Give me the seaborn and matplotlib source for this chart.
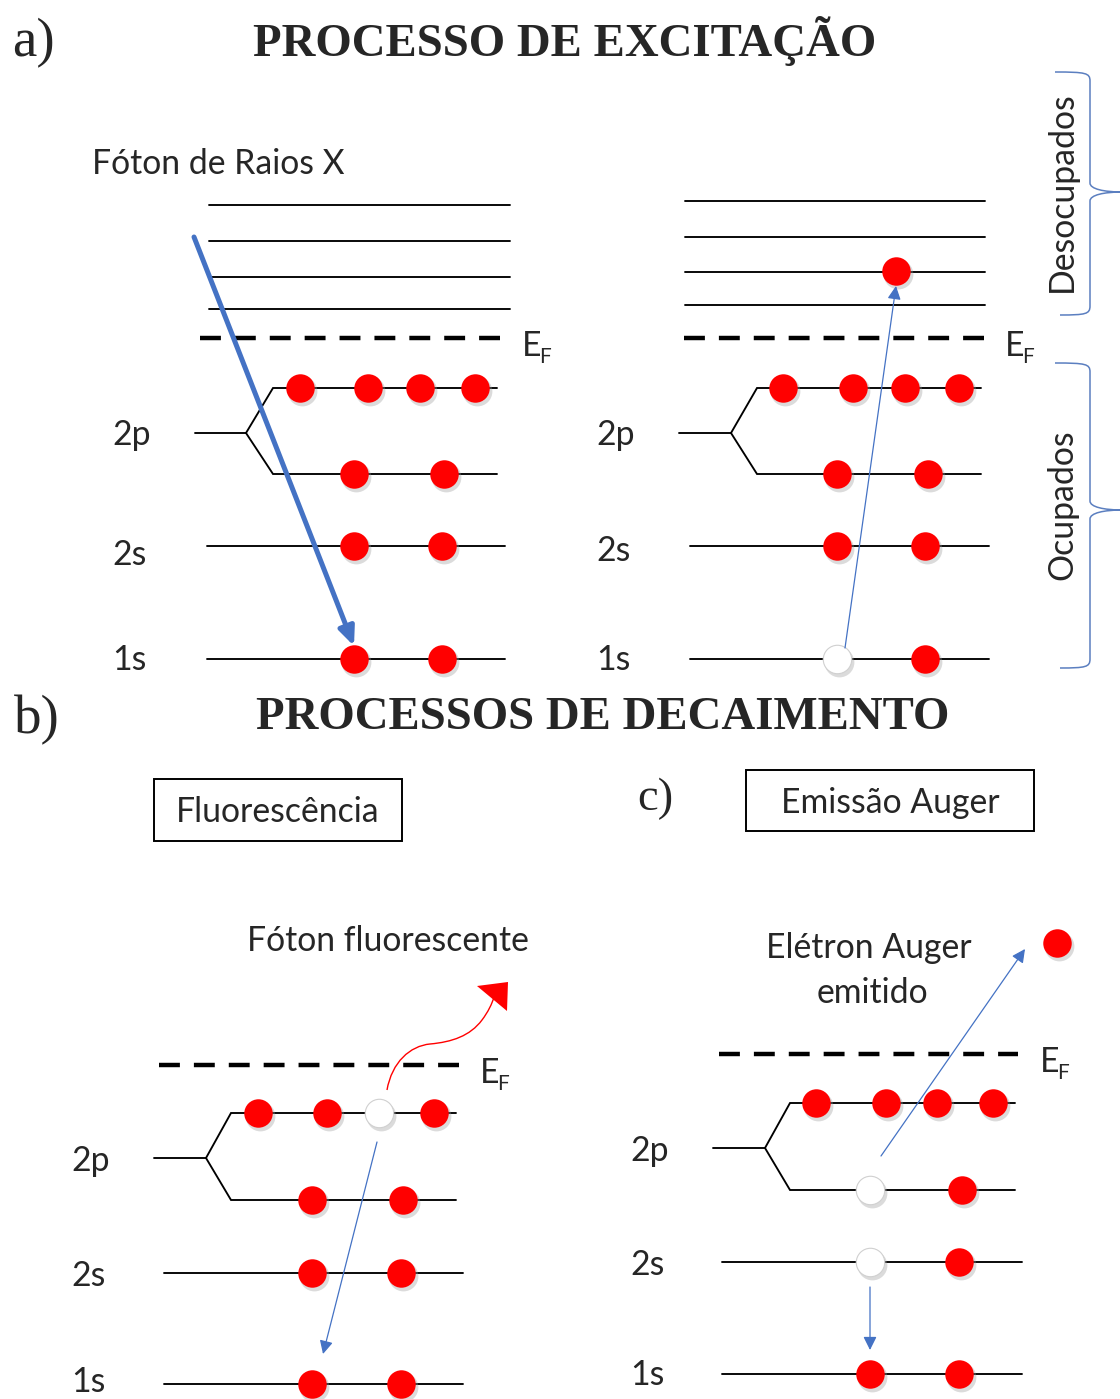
import numpy as np
import pandas as pd
import matplotlib
matplotlib.use("Agg")
import matplotlib.pyplot as plt
import seaborn as sns
from matplotlib.path import Path
from matplotlib.patches import PathPatch, Polygon, Rectangle

sns.set_theme(style="white")
plt.rcParams['font.family'] = ['Lato', 'DejaVu Sans']

W, H = 1120, 1399
RED = "#FF0000"
BLUE = "#4472C4"
BRACE = "#5B7FC0"

# ---------------- level geometry of the four diagrams (figure pixels) -------------
stem_x0     = [195, 679, 154, 713]
stem_x1     = [246, 731, 206, 765]
branch_x    = [273, 757, 231, 790]
p_x1        = [497, 981, 456, 1015]
y_2p_up     = [388, 388, 1113, 1103]
y_2p_mid    = [433, 433, 1158, 1148]
y_2p_low    = [474, 474, 1200, 1190]
s_x0        = [207, 690, 164, 722]
s_x1        = [505, 989, 463, 1022]
y_2s        = [546, 546, 1273, 1262]
y_1s        = [659, 659, 1384, 1374]
ef_x0       = [200, 684, 159, 719]
ef_x1       = [502, 985, 461, 1018]
y_ef        = [338, 338, 1065, 1054]
lab_x       = [112, 596, 71, 630]
lab_base_2p = [445, 445, 1171, 1161]
lab_base_2s = [565, 561, 1286, 1275]
lab_base_1s = [670, 670, 1392, 1385]
ef_lab_x    = [522, 1005, 480, 1040]

# unoccupied levels (excitation panels)
unocc_y_left   = [205, 241, 277, 309]
unocc_y_right  = [201, 237, 272, 305]
unocc_x_left   = [209, 510]
unocc_x_right  = [685, 985]

# ---------------- electrons ----------------
slot_level   = ["2p_up", "2p_up", "2p_up", "2p_up", "2p_low", "2p_low", "2s", "2s", "1s", "1s"]
exc_before_x  = [300, 368, 420, 475, 354, 444, 354, 442, 354, 442]
exc_before_st = ["e", "e", "e", "e", "e", "e", "e", "e", "e", "e"]
exc_after_x   = [783, 853, 905, 959, 837, 928, 837, 925, 837, 925]
exc_after_st  = ["e", "e", "e", "e", "e", "e", "e", "e", "h", "e"]
fluor_x       = [258, 327, 379, 434, 312, 403, 312, 401, 312, 401]
fluor_st      = ["e", "e", "h", "e", "e", "e", "e", "e", "e", "e"]
auger_x       = [816, 886, 937, 993, 870, 962, 870, 959, 870, 959]
auger_st      = ["e", "e", "e", "e", "h", "e", "h", "e", "e", "e"]
free_x  = [896, 1057]          # excited electron, emitted Auger electron
free_y  = [271, 943]

# ---------------- arrows ----------------
photon_start = (194, 237)
photon_end   = (354, 646)
thin_start = [(845, 648), (377, 1142), (881, 1156), (870, 1287)]
thin_end   = [(896, 286), (323, 1354), (1025, 949), (870, 1350)]

# ---------------- figure ----------------
fig = plt.figure(figsize=(W / 100, H / 100), dpi=100)
ax = fig.add_axes([0, 0, 1, 1])
ax.set_xlim(0, W)
ax.set_ylim(H, 0)
ax.axis('off')
fig.canvas.draw()
renderer = fig.canvas.get_renderer()


def fit_size(txt, width_px, **kw):
    t = ax.text(0, 0, txt, fontsize=10, **kw)
    w = t.get_window_extent(renderer).width
    t.remove()
    return 10 * width_px / w


SERIF = ['Liberation Serif', 'DejaVu Serif']
SANS = ['Lato', 'DejaVu Sans']
fs_lab = fit_size("Fóton de Raios X", 253, family=SANS)
fs_title = fit_size("PROCESSO DE EXCITAÇÃO", 620, family=SERIF, fontweight='bold')
fs_letter = fit_size("a)", 43, family=SERIF)

LW = 1.35
# ---- level diagrams ----
for i in range(4):
    ax.plot([stem_x0[i], stem_x1[i]], [y_2p_mid[i]] * 2, color='black', lw=LW)
    ax.plot([stem_x1[i], branch_x[i], p_x1[i]], [y_2p_mid[i], y_2p_up[i], y_2p_up[i]],
            color='black', lw=LW, solid_joinstyle='miter')
    ax.plot([stem_x1[i], branch_x[i], p_x1[i]], [y_2p_mid[i], y_2p_low[i], y_2p_low[i]],
            color='black', lw=LW, solid_joinstyle='miter')
    ax.plot([s_x0[i], s_x1[i]], [y_2s[i]] * 2, color='black', lw=LW)
    ax.plot([s_x0[i], s_x1[i]], [y_1s[i]] * 2, color='black', lw=LW)
    ax.plot([ef_x0[i], ef_x1[i]], [y_ef[i]] * 2, color='black', lw=3.2,
            ls=(0, (4.7, 3.15)), solid_capstyle='butt', dash_capstyle='butt')
    ax.text(lab_x[i], lab_base_2p[i], "2p", fontsize=fs_lab, family=SANS, va='baseline', ha='left')
    ax.text(lab_x[i], lab_base_2s[i], "2s", fontsize=fs_lab, family=SANS, va='baseline', ha='left')
    ax.text(lab_x[i], lab_base_1s[i], "1s", fontsize=fs_lab, family=SANS, va='baseline', ha='left')
    ax.text(ef_lab_x[i], y_ef[i] + 18, "E", fontsize=fs_lab, family=SANS, va='baseline', ha='left')
    ax.text(ef_lab_x[i] + 17, y_ef[i] + 25, "F", fontsize=fs_lab * 0.62, family=SANS,
            va='baseline', ha='left')

for yy in unocc_y_left:
    ax.plot(unocc_x_left, [yy, yy], color='black', lw=LW)
for yy in unocc_y_right:
    ax.plot(unocc_x_right, [yy, yy], color='black', lw=LW)

# ---- electrons (seaborn scatter) ----
rows = []
for i, (xs, sts) in enumerate([(exc_before_x, exc_before_st), (exc_after_x, exc_after_st),
                                (fluor_x, fluor_st), (auger_x, auger_st)]):
    ymap = {"2p_up": y_2p_up[i], "2p_low": y_2p_low[i], "2s": y_2s[i], "1s": y_1s[i]}
    for x, lv, st in zip(xs, slot_level, sts):
        rows.append({"x": x, "y": ymap[lv], "state": st})
for x, y in zip(free_x, free_y):
    rows.append({"x": x, "y": y, "state": "e"})
df = pd.DataFrame(rows)
df["xs"] = df["x"] + 1.5
df["ys"] = df["y"] + 2.5

S = 420
sns.scatterplot(data=df, x="xs", y="ys", color="#9a9a9a", alpha=0.35, s=S + 40,
                linewidth=0, legend=False, ax=ax, zorder=4)
sns.scatterplot(data=df[df.state == "e"], x="x", y="y", color=RED, s=S,
                linewidth=0, legend=False, ax=ax, zorder=5)
sns.scatterplot(data=df[df.state == "h"], x="x", y="y", color="white", s=S,
                edgecolor="#d0d0d0", linewidth=0.8, legend=False, ax=ax, zorder=5)

# ---- arrows ----
ax.annotate("", xy=photon_end, xytext=photon_start, zorder=6,
            arrowprops=dict(arrowstyle="-|>,head_length=0.55,head_width=0.24",
                            mutation_scale=20, lw=3.6, color=BLUE, shrinkA=0, shrinkB=0))
for st, en in zip(thin_start, thin_end):
    ax.annotate("", xy=en, xytext=st, zorder=6,
                arrowprops=dict(arrowstyle="-|>,head_length=0.4,head_width=0.2",
                                mutation_scale=20, lw=0.9, color=BLUE, shrinkA=0, shrinkB=0))

# fluorescent photon (wavy red arrow)
wave = Path([(387, 1090), (392, 1062), (410, 1046), (430, 1044),
             (452, 1042), (470, 1036), (482, 1020),
             (488, 1012), (492, 1004), (494, 997)],
            [Path.MOVETO, Path.CURVE4, Path.CURVE4, Path.CURVE4,
             Path.CURVE4, Path.CURVE4, Path.CURVE4,
             Path.CURVE4, Path.CURVE4, Path.CURVE4])
ax.add_patch(PathPatch(wave, fill=False, color=RED, lw=1.0, zorder=6))
ax.add_patch(Polygon([(477, 986), (508, 982), (507, 1011)], closed=True,
                     color=RED, lw=0, zorder=6))


# ---- braces ----
def brace(x_top, x_bot, x_v, x_tip, y0, ym, y1, r=9):
    verts = [(x_top, y0), (x_v - 4, y0), (x_v, y0 + 1), (x_v, y0 + r),
             (x_v, ym - r),
             (x_v, ym - 3), (x_tip - 18, ym), (x_tip, ym),
             (x_tip - 18, ym), (x_v, ym + 3), (x_v, ym + r),
             (x_v, y1 - r),
             (x_v, y1 - 1), (x_v - 4, y1), (x_bot, y1)]
    codes = [Path.MOVETO, Path.CURVE4, Path.CURVE4, Path.CURVE4,
             Path.LINETO,
             Path.CURVE4, Path.CURVE4, Path.CURVE4,
             Path.CURVE4, Path.CURVE4, Path.CURVE4,
             Path.LINETO,
             Path.CURVE4, Path.CURVE4, Path.CURVE4]
    ax.add_patch(PathPatch(Path(verts, codes), fill=False, color=BRACE, lw=1.1))


brace_y0 = [72, 363]
brace_ym = [192, 510]
brace_y1 = [315, 668]
brace_txt = ["Desocupados", "Ocupados"]
brace_txt_y = [192, 505]
for y0, ym, y1, txt, ty in zip(brace_y0, brace_ym, brace_y1, brace_txt, brace_txt_y):
    brace(1055, 1060, 1090, 1122, y0, ym, y1)
    ax.text(1062, ty, txt, rotation=90, fontsize=fs_lab, family=SANS, ha='center', va='center')

# ---- titles and labels ----
ax.text(12, 56, "a)", fontsize=fs_letter, family=SERIF, va='baseline', ha='left')
ax.text(565, 56, "PROCESSO DE EXCITAÇÃO", fontsize=fs_title, family=SERIF,
        fontweight='bold', va='baseline', ha='center')
ax.text(14, 733, "b)", fontsize=fs_letter, family=SERIF, va='baseline', ha='left')
ax.text(603, 729, "PROCESSOS DE DECAIMENTO", fontsize=fs_title, family=SERIF,
        fontweight='bold', va='baseline', ha='center')
ax.text(637, 810, "c)", fontsize=fs_letter * 0.85, family=SERIF, va='baseline', ha='left')

ax.text(92, 174, "Fóton de Raios X", fontsize=fs_lab, family=SANS, va='baseline', ha='left')
ax.text(247, 951, "Fóton fluorescente", fontsize=fs_lab, family=SANS, va='baseline', ha='left')
ax.text(869, 958, "Elétron Auger", fontsize=fs_lab, family=SANS, va='baseline', ha='center')
ax.text(872, 1003, "emitido", fontsize=fs_lab, family=SANS, va='baseline', ha='center')

box_x0 = [154, 746]
box_x1 = [402, 1034]
box_y0 = [779, 770]
box_y1 = [841, 831]
box_txt = ["Fluorescência", "Emissão Auger"]
box_base = [822, 813]
for x0, x1, y0, y1, t, b in zip(box_x0, box_x1, box_y0, box_y1, box_txt, box_base):
    ax.add_patch(Rectangle((x0, y0), x1 - x0, y1 - y0, fill=False, ec='black', lw=1.4))
    ax.text((x0 + x1) / 2, b, t, fontsize=fs_lab, family=SANS, va='baseline', ha='center')

ax.set_xlim(0, W)
ax.set_ylim(H, 0)
ax.axis('off')
fig.savefig("out.png", dpi=100, facecolor='white')
